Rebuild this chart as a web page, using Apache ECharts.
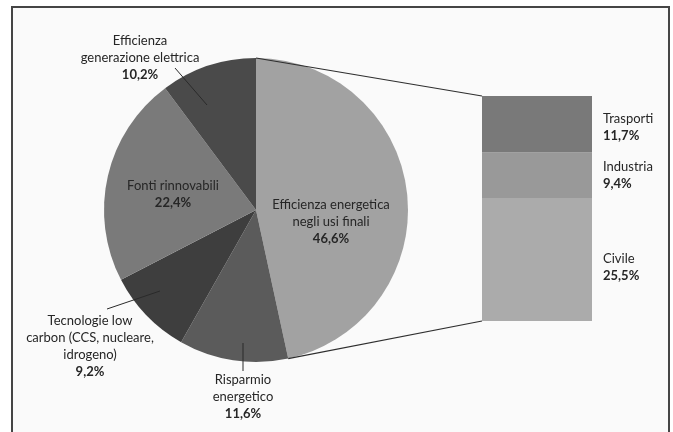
<!DOCTYPE html>
<html><head><meta charset="utf-8">
<script src="https://cdn.jsdelivr.net/npm/echarts@6/dist/echarts.min.js"></script>
<style>html,body{margin:0;padding:0;background:#fff}#c{width:673px;height:432px}</style>
</head><body><div id="c"></div>
<script>
// ---- data ----
const pieNames = ['Efficienza energetica\nnegli usi finali', 'Risparmio\nenergetico', 'Tecnologie low\ncarbon (CCS, nucleare,\nidrogeno)', 'Fonti rinnovabili', 'Efficienza\ngenerazione elettrica'];
const pieValues = [46.6, 11.6, 9.2, 22.4, 10.2];
const barNames = ['Civile', 'Industria', 'Trasporti'];
const barValues = [25.5, 9.4, 11.7];

// ---- styles / layout ----
const FONT = 'Lato, "Open Sans", sans-serif';
const pieColors = ['#a2a2a2', '#5b5b5b', '#3e3e3e', '#7a7a7a', '#4a4a4a'];
const barColors = ['#ababab', '#999999', '#797979'];
const pieCenter = [256, 210], pieR = 152;
const gridBox = { left: 482, top: 96, width: 110, height: 225 };
// label block centres and leader lines (annotation layout)
const labelPos = [[331, 220], [243, 395], [90, 344], [173, 192], [140, 56]];
const leaders = [null, [[243, 343], [243, 371]], [[160, 291], [107, 309]], null, [[207, 105], [175, 68]]];
const barLabelOffset = [[0, 8], [0, 0], [0, 3]];

const fmt = v => v.toFixed(1).replace('.', ',') + '%';
const rich = {
  n: { fontFamily: FONT, fontSize: 13, lineHeight: 17, color: '#262626' },
  p: { fontFamily: FONT, fontSize: 13, lineHeight: 17, color: '#262626', fontWeight: 'bold' }
};
const richLabel = (name, v) => name.split('\n').map(s => '{n|' + s + '}').join('\n') + '\n{p|' + fmt(v) + '}';

const chart = echarts.init(document.getElementById('c'), null, { renderer: 'canvas' });
const total = barValues.reduce((a, b) => a + b, 0);
const frame = { type: 'rect', z: -10, silent: true, shape: { x: 12, y: 7, width: 657, height: 440 }, style: { fill: '#fafafa', stroke: '#454545', lineWidth: 2 } };

chart.setOption({
  backgroundColor: '#ffffff',
  animation: false,
  grid: gridBox,
  xAxis: { type: 'category', data: [''], show: false },
  yAxis: { type: 'value', min: 0, max: total, show: false },
  graphic: [frame],
  series: [
    {
      type: 'pie', center: pieCenter, radius: pieR, startAngle: 90, clockwise: true,
      avoidLabelOverlap: false,
      data: pieNames.map((n, i) => ({
        name: n, value: pieValues[i],
        itemStyle: { color: pieColors[i] }
      })),
      label: {
        show: true, position: 'outside',
        formatter: p => richLabel(p.name, p.value),
        rich: rich, align: 'center'
      },
      labelLine: { show: false },
      emphasis: { disabled: true },
      labelLayout: function (params) {
        const i = params.dataIndex;
        const r = params.labelRect;
        return {
          x: labelPos[i][0], y: labelPos[i][1] - r.height / 2,
          align: 'center', verticalAlign: 'top'
        };
      }
    },
    ...barNames.map((n, i) => ({
      type: 'bar', stack: 's', name: n, barWidth: '100%',
      data: [barValues[i]],
      itemStyle: { color: barColors[i] },
      emphasis: { disabled: true },
      label: {
        show: true, position: 'right', distance: 11, align: 'left',
        offset: barLabelOffset[i],
        formatter: p => richLabel(p.seriesName, p.value),
        rich: rich
      }
    }))
  ]
});

// connector lines from the pie's first slice to the bar
const sumPie = pieValues.reduce((a, b) => a + b, 0);
const theta = pieValues[0] / sumPie * Math.PI * 2;
const pTop = [pieCenter[0], pieCenter[1] - pieR];
const pBot = [pieCenter[0] + pieR * Math.sin(theta), pieCenter[1] - pieR * Math.cos(theta)];
const yTop = chart.convertToPixel({ yAxisIndex: 0 }, total);
const yBot = chart.convertToPixel({ yAxisIndex: 0 }, 0);
const lineStyle = { stroke: '#2e2e2e', lineWidth: 1.2 };
const g = [frame,
  { type: 'line', z: 100, silent: true, shape: { x1: pTop[0], y1: pTop[1], x2: gridBox.left, y2: yTop }, style: lineStyle },
  { type: 'line', z: 100, silent: true, shape: { x1: pBot[0], y1: pBot[1], x2: gridBox.left, y2: yBot }, style: lineStyle }
];
leaders.forEach(l => {
  if (l) g.push({ type: 'line', z: 100, silent: true, shape: { x1: l[0][0], y1: l[0][1], x2: l[1][0], y2: l[1][1] }, style: { stroke: '#2a2a2a', lineWidth: 1 } });
});
chart.setOption({ graphic: g });
</script></body></html>
